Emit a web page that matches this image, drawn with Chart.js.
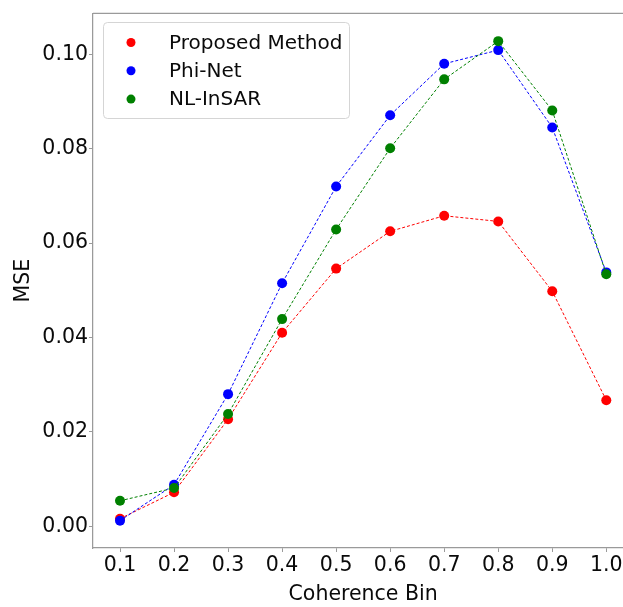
<!DOCTYPE html>
<html>
<head>
<meta charset="utf-8">
<script src="https://cdn.jsdelivr.net/npm/chart.js@4/dist/chart.umd.min.js"></script>
<style>
  html, body { margin: 0; padding: 0; background: #fff; overflow: hidden; }
  #wrap { width: 640px; height: 607px; }
</style>
</head>
<body>
<div id="wrap"><canvas id="mse-chart" width="640" height="607"></canvas></div>
<script>
  // values
  var bins = [0.1, 0.2, 0.3, 0.4, 0.5, 0.6, 0.7, 0.8, 0.9, 1.0];
  var proposed = [0.0016, 0.0072, 0.0227, 0.0410, 0.0546, 0.0625, 0.0658, 0.0646, 0.0498, 0.0267];
  var phiNet   = [0.0012, 0.0088, 0.0280, 0.0515, 0.0720, 0.0871, 0.0980, 0.1009, 0.0845, 0.0538];
  var nlInsar  = [0.0054, 0.0081, 0.0238, 0.0439, 0.0629, 0.0801, 0.0947, 0.1028, 0.0881, 0.0534];
  var yTicks = [0.00, 0.02, 0.04, 0.06, 0.08, 0.10];

  var FONT = "'DejaVu Sans', sans-serif";
  var AXIS = '#9a9a9a';
  var TEXT = '#0a0a0a';

  function pts(vals) {
    return bins.map(function(b, i) { return { x: b, y: vals[i] }; });
  }

  function series(label, color, vals, order) {
    return {
      label: label,
      data: pts(vals),
      borderColor: color,
      backgroundColor: color,
      pointBackgroundColor: color,
      pointBorderColor: color,
      borderWidth: 1,
      borderDash: [3, 2],
      pointRadius: 5,
      pointBorderWidth: 0,
      tension: 0,
      order: order
    };
  }

  // top spine (right spine falls outside the window)
  var frame = {
    id: 'frame',
    afterDraw: function(chart) {
      var a = chart.chartArea, ctx = chart.ctx;
      ctx.save();
      ctx.strokeStyle = AXIS;
      ctx.lineWidth = 1.25;
      ctx.beginPath();
      ctx.moveTo(a.left, a.top);
      ctx.lineTo(a.right, a.top);
      ctx.stroke();
      ctx.restore();
    }
  };

  // legend box inside the axes, upper left
  var innerLegend = {
    id: 'innerLegend',
    afterDraw: function(chart) {
      var ctx = chart.ctx;
      var x0 = 103.5, y0 = 22.5, w = 246, h = 96;
      ctx.save();
      ctx.beginPath();
      ctx.roundRect(x0, y0, w, h, 4);
      ctx.fillStyle = 'rgba(255,255,255,0.8)';
      ctx.fill();
      ctx.strokeStyle = '#d5d5d5';
      ctx.lineWidth = 1;
      ctx.stroke();
      ctx.font = '20px ' + FONT;
      ctx.textBaseline = 'middle';
      ctx.textAlign = 'left';
      chart.data.datasets.forEach(function(ds, i) {
        var cy = 42.5 + i * 28.3;
        ctx.beginPath();
        ctx.arc(131, cy, 4.5, 0, Math.PI * 2);
        ctx.fillStyle = ds.borderColor;
        ctx.fill();
        ctx.fillStyle = TEXT;
        ctx.fillText(ds.label, 169, cy + 1);
      });
      ctx.restore();
    }
  };

  var chart = new Chart(document.getElementById('mse-chart'), {
    type: 'line',
    data: {
      datasets: [
        series('Proposed Method', '#ff0000', proposed, 3),
        series('Phi-Net', '#0000ff', phiNet, 2),
        series('NL-InSAR', '#008000', nlInsar, 1)
      ]
    },
    plugins: [frame, innerLegend],
    options: {
      responsive: false,
      animation: false,
      layout: { padding: { top: 12, right: 6.7, left: 0, bottom: 0 } },
      plugins: {
        legend: { display: false },
        tooltip: { enabled: false }
      },
      scales: {
        x: {
          type: 'linear',
          min: 0.05,
          max: 1.05,
          afterFit: function(s) { s.height = 59; },
          afterBuildTicks: function(s) {
            s.ticks = bins.map(function(v) { return { value: v }; });
          },
          ticks: {
            color: TEXT,
            padding: 1,
            font: { family: FONT, size: 20.5 },
            callback: function(v) { return Number(v).toFixed(1); }
          },
          grid: { drawOnChartArea: false, drawTicks: true, tickLength: 4, color: AXIS, tickWidth: 1 },
          border: { display: true, color: AXIS, width: 1.25 },
          title: {
            display: true,
            text: 'Coherence Bin',
            color: TEXT,
            padding: { top: 0, bottom: 0 },
            font: { family: FONT, size: 20.5 }
          }
        },
        y: {
          min: -0.0046,
          max: 0.1087,
          afterFit: function(s) { s.width = 93; },
          afterBuildTicks: function(s) {
            s.ticks = yTicks.map(function(v) { return { value: v }; });
          },
          ticks: {
            color: TEXT,
            padding: 1,
            font: { family: FONT, size: 20.5 },
            callback: function(v) { return Number(v).toFixed(2); }
          },
          grid: { drawOnChartArea: false, drawTicks: true, tickLength: 4, color: AXIS, tickWidth: 1 },
          border: { display: true, color: AXIS, width: 1.25 },
          title: {
            display: true,
            text: 'MSE',
            color: TEXT,
            padding: { top: 11, bottom: 0 },
            font: { family: FONT, size: 20.5 }
          }
        }
      }
    }
  });
</script>
</body>
</html>
